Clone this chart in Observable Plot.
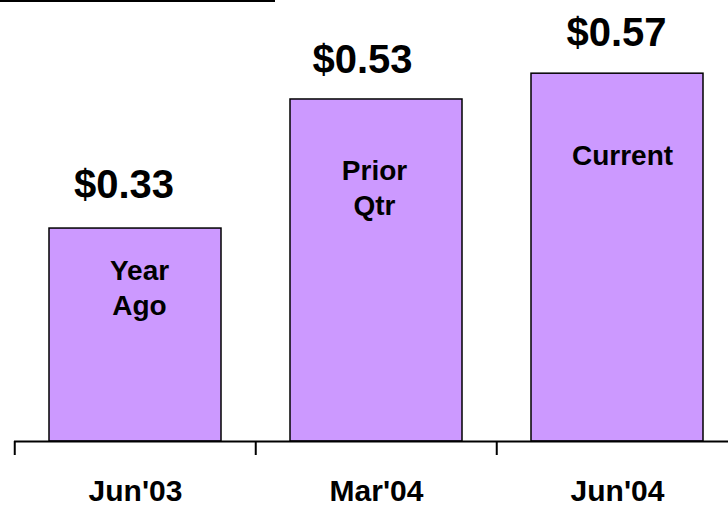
<!DOCTYPE html>
<html>
<head>
<meta charset="utf-8">
<script src="https://cdn.jsdelivr.net/npm/d3@7"></script>
<script src="https://cdn.jsdelivr.net/npm/@observablehq/plot@0.6"></script>
<style>
  html, body { margin: 0; padding: 0; background: #fff; }
  #wrap { position: relative; width: 728px; height: 506px; overflow: hidden; }
  #topline { position: absolute; left: 0; top: 0; width: 275px; height: 2px; background: #000; }
  svg { display: block; }
</style>
</head>
<body>
<div id="wrap"><div id="topline"></div></div>
<script>
const categories = ["Jun'03", "Mar'04", "Jun'04"];
const values = [0.33, 0.53, 0.57];
const innerLabels = ["Year\nAgo", "Prior\nQtr", "Current"];

const data = categories.map((c, i) => ({cat: c, value: values[i], inner: innerLabels[i]}));

const font = "'Liberation Sans', Arial, Helvetica, sans-serif";
const valueOffsets = [{dx: -11.5, dy: -31}, {dx: -14, dy: -26}, {dx: -1, dy: -28}];
const innerOffsets = [{dx: 4, dy: 27}, {dx: -2, dy: 56}, {dx: 5, dy: 66}];

const valueMarks = data.map((d, i) => Plot.text([d], {
  x: "cat", y: "value", text: d => "$" + d.value.toFixed(2),
  lineAnchor: "bottom", dx: valueOffsets[i].dx, dy: valueOffsets[i].dy,
  fontSize: 40, fontWeight: "bold", fontFamily: font, fill: "#000"
}));
const innerMarks = data.map((d, i) => Plot.text([d], {
  x: "cat", y: "value", text: "inner",
  lineAnchor: "top", lineHeight: 1.25, dx: innerOffsets[i].dx, dy: innerOffsets[i].dy,
  fontSize: 28, fontWeight: "bold", fontFamily: font, fill: "#000"
}));

const chart = Plot.plot({
  width: 728,
  height: 506,
  marginTop: 0,
  marginBottom: 65,
  marginLeft: 14,
  marginRight: 0,
  style: {fontFamily: font, background: "transparent"},
  x: {domain: categories, range: [14, 14 + 3 * 241.5], paddingInner: 0.288, paddingOuter: 0.144},
  y: {domain: [0, 0.6834], axis: null},
  marks: [
    Plot.barY(data, {x: "cat", y: "value", fill: "#CC99FF", stroke: "#000", strokeWidth: 1.5}),
    Plot.ruleY([0], {stroke: "#000", strokeWidth: 2}),
    Plot.axisX({tickSize: 14, tickFormat: null, dx: -120.75, strokeWidth: 2, stroke: "#000", label: null}),
    Plot.axisX({tickSize: 0, tickPadding: 38, fontSize: 30, fontWeight: "bold", fontFamily: font, fill: "#000", label: null}),
    ...valueMarks,
    ...innerMarks
  ]
});
document.getElementById("wrap").appendChild(chart);
</script>
</body>
</html>
